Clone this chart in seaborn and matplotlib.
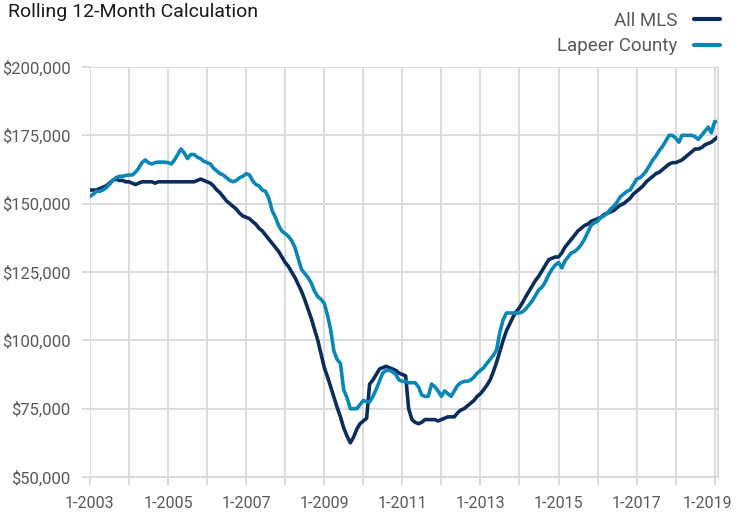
import numpy as np
import pandas as pd
import matplotlib
matplotlib.use("Agg")
import matplotlib.pyplot as plt
import matplotlib.transforms as mtransforms
import seaborn as sns
from matplotlib.lines import Line2D

# ---- data (values in $1,000s), monthly Jan 2003 - Feb 2019 ----
start_month = "2003-01-01"
series_names = ["All MLS", "Lapeer County"]

all_mls = [
    155, 155, 155, 155.5, 156, 156.5, 157.5, 158.5, 159, 158.5, 158.5, 158,          # 2003
    158, 157.5, 157, 157.5, 158, 158, 158, 158, 157.5, 158, 158, 158,                # 2004
    158, 158, 158, 158, 158, 158, 158, 158, 158, 158.5, 159, 158.5,                  # 2005
    158, 157.5, 156.5, 155, 154, 152.5, 151, 150, 149, 148, 146.5, 145.5,            # 2006
    145, 144.5, 143.5, 142.5, 141, 140, 138.5, 137, 135.5, 134, 132.5, 130.5,        # 2007
    128.5, 127, 125, 123, 120.5, 118, 115, 111.5, 108, 104, 100, 95,                 # 2008
    90, 86.5, 83, 79, 75.5, 72, 68, 65, 62.5, 64.5, 67.5, 69.5,                      # 2009
    70.5, 71.5, 84, 85.5, 87.5, 89.5, 90, 90.5, 90, 89.5, 89, 88,                    # 2010
    87.5, 87, 75, 71, 70, 69.5, 70, 71, 71, 71, 71, 70.5,                            # 2011
    71, 71.5, 72, 72, 72, 73.5, 74.5, 75, 76, 77, 78, 79.5,                          # 2012
    80.5, 82, 83.5, 85.5, 88.5, 92, 96, 100, 103.5, 106, 108.5, 110.5,               # 2013
    112, 114, 116, 118, 120, 122, 123.5, 125.5, 127.5, 129.5, 130, 130.5,            # 2014
    130.5, 132, 134, 135.5, 137, 138.5, 140, 141, 142, 142.5, 143.5, 144,            # 2015
    144.5, 145, 146, 146.5, 147, 147.5, 148.5, 149.5, 150, 151, 152, 153.5,          # 2016
    154.5, 155.5, 156.5, 158, 159, 160, 161, 161.5, 162.5, 163.5, 164.5, 165,        # 2017
    165, 165.5, 166, 167, 168, 169, 170, 170, 170.5, 171.5, 172, 172.5,              # 2018
    173.5, 174.5,                                                                    # 2019
]

lapeer = [
    152.6, 153.5, 154.5, 154.5, 155, 155.8, 157, 158.5, 159.5, 160, 160, 160.3,      # 2003
    160.5, 160.5, 161.5, 163, 165, 166, 165, 164.5, 165, 165.2, 165.2, 165.2,        # 2004
    165, 164.5, 166, 168, 170, 168.5, 166.5, 168, 168, 167, 166.5, 165.5,            # 2005
    165, 164.5, 163, 162, 161, 160.5, 159.5, 158.5, 158, 158.5, 159.5, 160,          # 2006
    161, 160.5, 158.5, 157, 156.5, 155, 154.5, 152, 147.5, 145, 142, 140,            # 2007
    139, 138, 136.5, 134, 130, 126, 124.5, 123, 121, 118, 116, 115,                  # 2008
    113.5, 109, 104, 96, 93, 91.5, 82, 79, 75, 75, 75, 76.5,                         # 2009
    78, 77.5, 77.5, 79.5, 82, 85, 88, 89, 89, 88.5, 87.5, 85.5,                      # 2010
    85, 85, 84.5, 84.5, 84.5, 83, 80, 79.5, 79.5, 84, 83, 81.5,                      # 2011
    79.5, 81.5, 80.5, 79.5, 81.5, 83.5, 84.5, 85, 85, 85.5, 86.5, 88,                # 2012
    89, 90, 91.5, 93, 94.5, 96.5, 103, 107.5, 110, 110, 110, 110,                    # 2013
    110, 110.5, 111.5, 113, 114.5, 116.5, 118.5, 119.5, 121.5, 124, 126, 127.5,      # 2014
    128.5, 126.5, 129, 130.5, 132, 132.5, 133.5, 135, 137, 139.5, 142, 143,          # 2015
    143.5, 145, 145.5, 146.5, 148, 149, 150.5, 152.5, 153.5, 154.5, 155, 157,        # 2016
    159, 159.5, 160.5, 162, 164, 166, 167.5, 169.5, 171, 173, 175, 175,              # 2017
    174, 172.5, 175, 175, 175, 175, 174.5, 173.5, 175, 176.5, 178, 176,              # 2018
    180, 180,                                                                        # 2019
]

y_ticks = [50000, 75000, 100000, 125000, 150000, 175000, 200000]
x_tick_years = list(range(2003, 2020, 2))

# ---- build table ----
dates = pd.date_range(start_month, periods=len(all_mls), freq="MS")
df = pd.DataFrame({
    "date": np.concatenate([dates, dates]),
    "value": np.concatenate([np.array(all_mls), np.array(lapeer)]) * 1000,
    "series": [series_names[0]] * len(all_mls) + [series_names[1]] * len(lapeer),
})

sns.set_theme(style="white")
plt.rcParams["font.family"] = ["Roboto", "DejaVu Sans"]

DARK = "#0c2c5c"
LIGHT = "#0a86b7"
GRID = "#d9d9d9"
TXT = "#595959"

fig = plt.figure(figsize=(7.36, 5.15), dpi=100)
ax = fig.add_axes([90 / 736, 1 - 477 / 515, (718 - 90) / 736, (477 - 67) / 515])

sns.lineplot(data=df, x="date", y="value", hue="series",
             palette={series_names[0]: DARK, series_names[1]: LIGHT},
             linewidth=2.6, ax=ax, legend=False)

ax.set_xlim(dates[0], dates[-1])
ax.set_ylim(50000, 200000)

year_ticks = pd.date_range("2003-01-01", "2019-01-01", freq="YS")
ax.set_xticks(year_ticks)
ax.set_xticklabels([f"1-{d.year}" if d.year in x_tick_years else "" for d in year_ticks])
ax.set_yticks(y_ticks)
ax.set_yticklabels([f"${v:,.0f}" for v in y_ticks])

ax.grid(True, color=GRID, linewidth=1.3)
ax.set_axisbelow(True)
for side in ["top", "left"]:
    ax.spines[side].set_visible(False)
ax.spines["right"].set_color(GRID)
ax.spines["right"].set_linewidth(1.3)
ax.spines["bottom"].set_color(GRID)
ax.spines["bottom"].set_linewidth(1.3)

ax.tick_params(axis="x", which="major", length=6, width=1.3, color=GRID,
               labelsize=11.5, labelcolor=TXT, pad=8, bottom=True)
ax.tick_params(axis="y", length=6, width=1.3, color=GRID, labelsize=12,
               labelcolor=TXT, pad=8, left=True)
ax.set_xlabel("")
ax.set_ylabel("")

# nudge the last x label so it stays inside the canvas
last_lbl = ax.get_xticklabels()[-1]
last_lbl.set_transform(last_lbl.get_transform() +
                       mtransforms.ScaledTranslation(-5 / 72, 0, fig.dpi_scale_trans))

fig.text(8 / 736, 1 - 12 / 515, "Rolling 12-Month Calculation", fontsize=14,
         color="#1a1a1a", ha="left", va="center")

handles = [Line2D([0], [0], color=DARK, linewidth=3),
           Line2D([0], [0], color=LIGHT, linewidth=3)]
leg = fig.legend(handles, series_names, loc="upper right",
                 bbox_to_anchor=(737 / 736, 1 + 5 / 515), frameon=False,
                 markerfirst=False, fontsize=13.5, handlelength=1.4,
                 handletextpad=0.9, labelspacing=0.4, alignment="right")
for t in leg.get_texts():
    t.set_color(TXT)

fig.savefig("out.png", dpi=100)
